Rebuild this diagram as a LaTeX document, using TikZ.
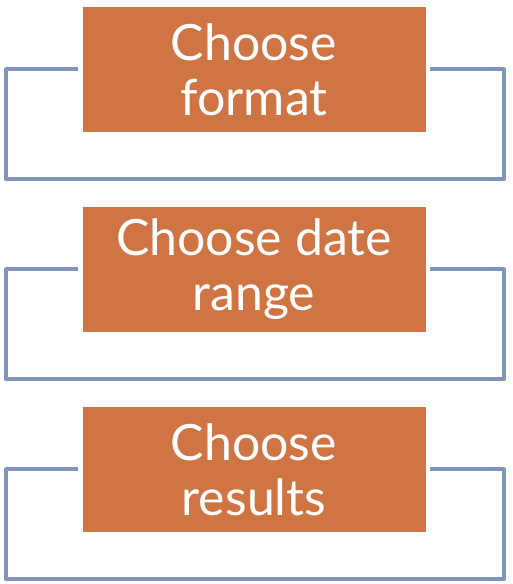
\documentclass[tikz,border=0pt]{standalone}
\usepackage{fontspec}
\setmainfont{Lato}
\usepackage{tikz}
\usetikzlibrary{positioning}
\definecolor{stageorange}{RGB}{207,116,67}
\definecolor{loopblue}{RGB}{127,149,185}

\begin{document}
\begin{tikzpicture}
    [
      x=1pt, y=1pt,
      stage/.style={rectangle,fill=stageorange,text=white,minimum width=343pt,minimum height=125pt,inner sep=0pt,align=center,font=\fontsize{50}{55}\selectfont},
      loopback/.style={draw=loopblue,line width=4pt,line join=round},
    ]
    \useasboundingbox (0,0) rectangle (513,584);

    \node (format) [stage] at (254,514.5) {Choose\\format};
    \node (daterange) [stage] at (254,314.5) {Choose date\\range};
    \node (results) [stage] at (254,114.5) {Choose\\results};

    % brackets round each step
    \draw [loopback] ([xshift=-4.5pt]format.west) -- ++(-71.5,0) -- ++(0,-110) -- ++(497.5,0) -- ++(0,110) -- ([xshift=4.5pt]format.east);
    \draw [loopback] ([xshift=-4.5pt]daterange.west) -- ++(-71.5,0) -- ++(0,-110) -- ++(497.5,0) -- ++(0,110) -- ([xshift=4.5pt]daterange.east);
    \draw [loopback] ([xshift=-4.5pt]results.west) -- ++(-71.5,0) -- ++(0,-110) -- ++(497.5,0) -- ++(0,110) -- ([xshift=4.5pt]results.east);

\end{tikzpicture}
\end{document}
